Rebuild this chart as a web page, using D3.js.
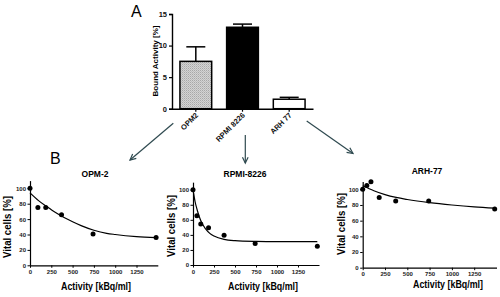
<!DOCTYPE html>
<html><head><meta charset="utf-8">
<script src="https://cdn.jsdelivr.net/npm/d3@7"></script>
<style>body{margin:0;background:#fff}svg{display:block}text{font-family:"Liberation Sans",Arial,sans-serif}</style>
</head><body><svg id="c" width="500" height="297"></svg>
<script>
// ---- Data ----
const cellLines = ["OPM2", "RPMI 8226", "ARH 77"];
const boundActivity = [7.5, 12.9, 1.5];
const boundError = [9.8, 13.4, 1.8];
const topTicks = [0, 5, 10, 15];

const panelTitles = ["OPM-2", "RPMI-8226", "ARH-77"];
const opmDose = [0, 92.5, 185, 370, 740, 1480];
const opmVital = [100, 75, 75, 65.5, 40.5, 36];
const rpmiDose = [0, 46.25, 92.5, 185, 370, 740, 1480];
const rpmiVital = [100, 65.5, 54.5, 49.5, 39.5, 28.5, 25];
const arhDose = [0, 46.25, 92.5, 185, 370, 740, 1480];
const arhVital = [100, 105, 109.5, 89.5, 85, 85, 75];

const opmFitX = [0, 100, 200, 300, 400, 500, 600, 750, 900, 1000, 1250, 1480];
const opmFitY = [94, 84, 76, 68.5, 62, 56.5, 51.5, 45.5, 41.5, 40, 37.3, 36];
const rpmiFitX = [0, 25, 50, 75, 100, 150, 200, 250, 370, 500, 750, 1000, 1480];
const rpmiFitY = [100, 84, 73, 64, 57, 48, 42, 38.5, 34, 32.3, 31.3, 31, 31];
const arhFitX = [0, 125, 250, 375, 500, 750, 1000, 1250, 1480];
const arhFitY = [104.5, 98.2, 93.2, 89.6, 87, 83, 80, 77.6, 76];

const doseTicks = [0, 250, 500, 750, 1000, 1250];
const vitalTicks = [0, 20, 40, 60, 80, 100];

// ---- Drawing ----
const svg = d3.select("#c");
const defs = svg.append("defs");
const pat = defs.append("pattern").attr("id", "stip").attr("patternUnits", "userSpaceOnUse")
  .attr("width", 2).attr("height", 2);
pat.append("rect").attr("width", 2).attr("height", 2).attr("fill", "#d4d4d4");
pat.append("rect").attr("width", 1).attr("height", 1).attr("fill", "#a8a8a8");
pat.append("rect").attr("x", 1).attr("y", 1).attr("width", 1).attr("height", 1).attr("fill", "#bdbdbd");

// Top bar chart
const xb = d3.scaleBand().domain(cellLines).range([172, 313]).paddingInner(0.32).paddingOuter(0.17);
const yb = d3.scaleLinear().domain([0, 15]).range([108.7, 14]);
const fills = ["url(#stip)", "#000", "#fff"];

const gA = svg.append("g");
gA.selectAll("rect.bar").data(cellLines).join("rect").attr("class", "bar")
  .attr("x", d => xb(d)).attr("width", xb.bandwidth())
  .attr("y", (d, i) => yb(boundActivity[i])).attr("height", (d, i) => yb(0) - yb(boundActivity[i]))
  .attr("fill", (d, i) => fills[i]).attr("stroke", "#000").attr("stroke-width", 1.5);
cellLines.forEach((c, i) => {
  const cx = xb(c) + xb.bandwidth() / 2;
  gA.append("line").attr("x1", cx).attr("x2", cx).attr("y1", yb(boundActivity[i])).attr("y2", yb(boundError[i]))
    .attr("stroke", "#000").attr("stroke-width", 1.5);
  gA.append("line").attr("x1", cx - 9.5).attr("x2", cx + 9.5).attr("y1", yb(boundError[i])).attr("y2", yb(boundError[i]))
    .attr("stroke", "#000").attr("stroke-width", 1.5);
});
const yAx = gA.append("g").attr("transform", "translate(172,0)")
  .call(d3.axisLeft(yb).tickValues(topTicks).tickSize(3).tickPadding(2).tickFormat(d3.format("d")));
const xAx = gA.append("g").attr("transform", "translate(0,108.7)")
  .call(d3.axisBottom(xb).tickSize(3).tickSizeOuter(0));
[yAx, xAx].forEach(a => {
  a.select(".domain").attr("stroke-width", 1.4);
  a.selectAll(".tick line").attr("stroke-width", 1.2);
  a.selectAll("text").attr("font-size", 7.5).attr("font-weight", "bold").attr("fill", "#111");
});
xAx.selectAll(".tick text").attr("text-anchor", "end").attr("dy", 0).attr("y", 0)
  .attr("transform", "translate(3,7) rotate(-45)");
gA.append("text").attr("transform", "translate(158,61) rotate(-90)").attr("text-anchor", "middle")
  .attr("font-size", 8).attr("font-weight", "bold").text("Bound Activity [%]");
svg.append("text").attr("x", 131).attr("y", 17).attr("font-size", 16).text("A");
svg.append("text").attr("x", 50).attr("y", 164).attr("font-size", 16).text("B");

// Arrows
const arrowColor = "#2f4a50";
const arrows = [[173.3, 123.3, 130, 160], [245.3, 135, 245.3, 163], [306.7, 121, 353, 153.5]];
arrows.forEach(([x1, y1, x2, y2]) => {
  svg.append("line").attr("x1", x1).attr("y1", y1).attr("x2", x2).attr("y2", y2)
    .attr("stroke", arrowColor).attr("stroke-width", 1.2);
  const ang = Math.atan2(y2 - y1, x2 - x1);
  const L = 6.5, w = 0.45;
  const p = [[x2 - L * Math.cos(ang - w), y2 - L * Math.sin(ang - w)], [x2, y2],
             [x2 - L * Math.cos(ang + w), y2 - L * Math.sin(ang + w)]];
  svg.append("path").attr("d", d3.line()(p)).attr("fill", "none").attr("stroke", arrowColor).attr("stroke-width", 1.2);
});

// Bottom panels
const panels = [
  {title: panelTitles[0], dose: opmDose, vital: opmVital, fx: opmFitX, fy: opmFitY,
   x0: 30, x1: 157.8, y0: 265.3, y100: 188.3, tx: 95, ty: 177, ylx: 11, yly: 227, xlx: 96, xly: 290},
  {title: panelTitles[1], dose: rpmiDose, vital: rpmiVital, fx: rpmiFitX, fy: rpmiFitY,
   x0: 193, x1: 319, y0: 265, y100: 189.7, tx: 245, ty: 177, ylx: 175, yly: 226, xlx: 263, xly: 290},
  {title: panelTitles[2], dose: arhDose, vital: arhVital, fx: arhFitX, fy: arhFitY,
   x0: 362.7, x1: 496.5, y0: 267.7, y100: 189.3, tx: 427, ty: 174, ylx: 345, yly: 224, xlx: 448, xly: 288}
];
panels.forEach(p => {
  const x = d3.scaleLinear().domain([0, 1500]).range([p.x0, p.x1]);
  const y = d3.scaleLinear().domain([0, 110]).range([p.y0, p.y0 - (p.y0 - p.y100) * 1.1]);
  const g = svg.append("g");
  const ax = g.append("g").attr("transform", `translate(0,${p.y0})`)
    .call(d3.axisBottom(x).tickValues(doseTicks).tickSize(2.5).tickSizeOuter(0).tickPadding(2).tickFormat(d3.format("d")));
  const ay = g.append("g").attr("transform", `translate(${p.x0},0)`)
    .call(d3.axisLeft(y).tickValues(vitalTicks).tickSize(2.5).tickSizeOuter(0).tickPadding(1.5).tickFormat(d3.format("d")));
  [ax, ay].forEach(a => {
    a.select(".domain").attr("stroke-width", 1.2);
    a.selectAll(".tick line").attr("stroke-width", 1);
    a.selectAll("text").attr("font-size", 6).attr("font-weight", "bold").attr("fill", "#222");
  });
  const line = d3.line().x((d, i) => x(p.fx[i])).y((d, i) => y(p.fy[i])).curve(d3.curveMonotoneX);
  g.append("path").attr("d", line(p.fx)).attr("fill", "none").attr("stroke", "#000").attr("stroke-width", 1.2);
  g.selectAll("circle").data(p.dose).join("circle")
    .attr("cx", d => x(d)).attr("cy", (d, i) => y(p.vital[i])).attr("r", 2.5).attr("fill", "#000");
  g.append("text").attr("x", p.tx).attr("y", p.ty).attr("text-anchor", "middle")
    .attr("font-size", 8.5).attr("font-weight", "bold").text(p.title);
  g.append("text").attr("transform", `translate(${p.ylx},${p.yly}) rotate(-90)`).attr("text-anchor", "middle")
    .attr("font-size", 10.5).attr("font-weight", "bold")
    .attr("textLength", 62).attr("lengthAdjust", "spacingAndGlyphs").text("Vital cells [%]");
  g.append("text").attr("x", p.xlx).attr("y", p.xly).attr("text-anchor", "middle")
    .attr("font-size", 10.5).attr("font-weight", "bold")
    .attr("textLength", 70).attr("lengthAdjust", "spacingAndGlyphs").text("Activity  [kBq/ml]");
});
</script></body></html>
